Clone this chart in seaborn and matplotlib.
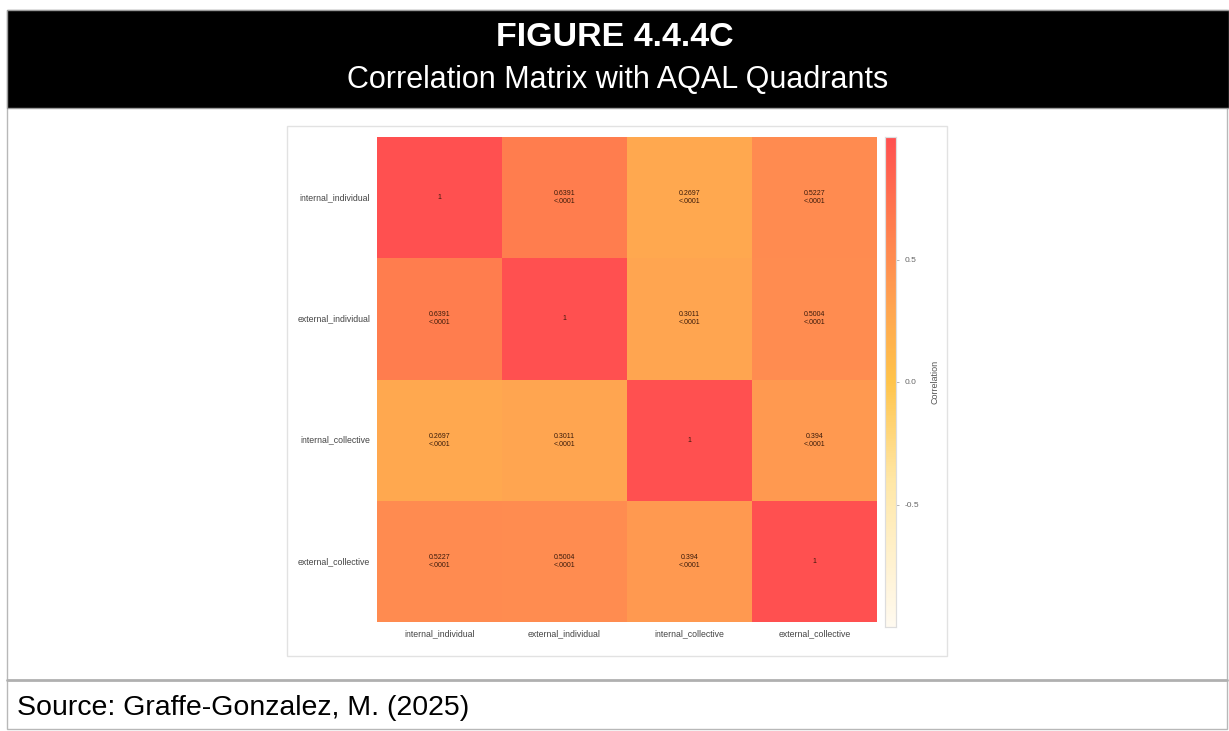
import numpy as np
import pandas as pd
import seaborn as sns
import matplotlib
matplotlib.use("Agg")
import matplotlib.pyplot as plt
from matplotlib.colors import LinearSegmentedColormap
from matplotlib.patches import Rectangle

quadrants = ["internal_individual", "external_individual", "internal_collective", "external_collective"]

corr_values = [
    [1.0, 0.6391, 0.2697, 0.5227],
    [0.6391, 1.0, 0.3011, 0.5004],
    [0.2697, 0.3011, 1.0, 0.394],
    [0.5227, 0.5004, 0.394, 1.0],
]

p_labels = [
    ["", "<.0001", "<.0001", "<.0001"],
    ["<.0001", "", "<.0001", "<.0001"],
    ["<.0001", "<.0001", "", "<.0001"],
    ["<.0001", "<.0001", "<.0001", ""],
]

cbar_ticks = [-0.5, 0.0, 0.5]

title_text = "FIGURE 4.4.4C"
subtitle_text = "Correlation Matrix with AQAL Quadrants"
source_text = "Source: Graffe-Gonzalez, M. (2025)"

sns.set_theme(style="white")
plt.rcParams["font.family"] = ["Liberation Sans", "DejaVu Sans"]

corr = pd.DataFrame(corr_values, index=quadrants, columns=quadrants)


def fmt_r(v):
    return "1" if v == 1 else f"{v:.4f}".rstrip("0")


annot = np.array([
    [fmt_r(corr_values[i][j]) + ("\n" + p_labels[i][j] if p_labels[i][j] else "")
     for j in range(len(quadrants))]
    for i in range(len(quadrants))
])

cmap = LinearSegmentedColormap.from_list(
    "corr_warm",
    [(0.0, "#fffaf0"), (0.3, "#ffe7a6"), (0.5, "#ffc44a"),
     (0.65, "#ffa550"), (0.75, "#ff8d50"), (0.83, "#ff7b4e"), (1.0, "#ff5050")],
)

W, H = 1229, 731
fig = plt.figure(figsize=(W / 100, H / 100), dpi=100)
fig.patch.set_facecolor("white")


def px_rect(x0, y0, x1, y1, **kw):
    fig.patches.append(Rectangle((x0 / W, 1 - y1 / H), (x1 - x0) / W, (y1 - y0) / H,
                                 transform=fig.transFigure, zorder=-5, **kw))


# outer frame, header bar, chart panel and source strip
px_rect(7, 10, 1227, 729, facecolor="white", edgecolor="#b8b8b8", linewidth=1.0)
px_rect(7, 10, 1229, 108, facecolor="black", edgecolor="#9a9a9a", linewidth=1.0)
fig.lines.append(plt.Line2D([7 / W, 1227 / W], [1 - 680 / H, 1 - 680 / H],
                            transform=fig.transFigure, color="#b0b0b0", linewidth=2.0,
                            zorder=-4))
px_rect(287, 126, 947, 656, facecolor="white", edgecolor="#e2e2e2", linewidth=1.0)

fig.text(615 / W, 1 - 37 / H, title_text, color="white", fontsize=24.5, fontweight="bold",
         ha="center", va="center")
fig.text(618 / W, 1 - 80 / H, subtitle_text, color="white", fontsize=22,
         ha="center", va="center")
fig.text(17 / W, 1 - 708 / H, source_text, color="black", fontsize=20.5,
         ha="left", va="center")

ax = fig.add_axes([377 / W, 1 - 622 / H, 500 / W, 485 / H])
cax = fig.add_axes([885 / W, 1 - 627 / H, 11 / W, 490 / H])

sns.heatmap(corr, ax=ax, cbar_ax=cax, cmap=cmap, vmin=-1, vmax=1,
            annot=annot, fmt="", annot_kws={"fontsize": 5.0, "color": "#3a1a0a"},
            cbar_kws={"ticks": cbar_ticks, "label": "Correlation"})

ax.tick_params(axis="both", length=0, labelsize=6.3, labelcolor="#444444", pad=5)
ax.set_xticklabels(quadrants, rotation=0)
ax.set_yticklabels(quadrants, rotation=0)
ax.set_xlabel("")
ax.set_ylabel("")

cax.tick_params(labelsize=6, labelcolor="#666666", length=2.5, width=0.5, color="#999999")
cax.set_yticklabels(["-0.5", "0.0", "0.5"])
cax.yaxis.label.set_size(6.5)
cax.yaxis.label.set_color("#555555")
cax.yaxis.labelpad = 8
for s in cax.spines.values():
    s.set_visible(True)
    s.set_edgecolor("#dddddd")
    s.set_linewidth(0.8)

fig.savefig("out.png", dpi=100, facecolor="white")
